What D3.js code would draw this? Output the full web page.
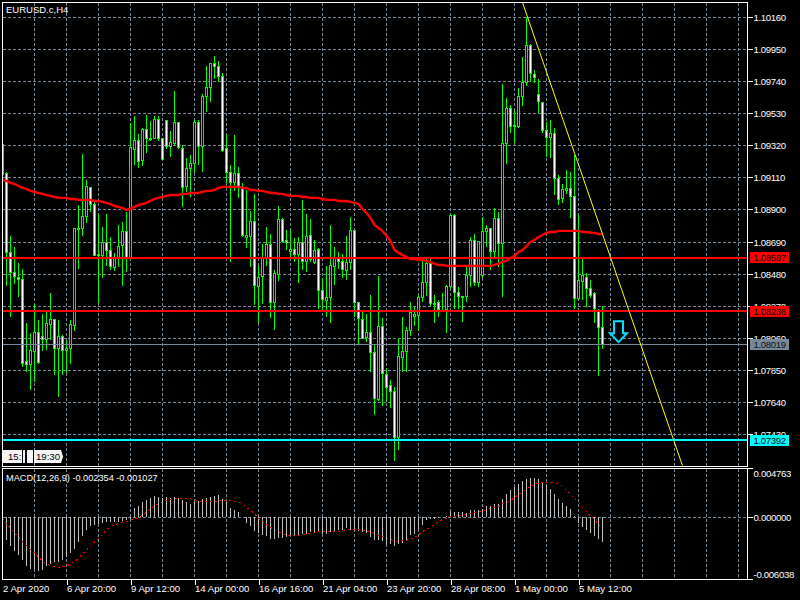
<!DOCTYPE html>
<html><head><meta charset="utf-8">
<script src="https://cdn.jsdelivr.net/npm/d3@7"></script>
<style>html,body{margin:0;padding:0;background:#000}svg{display:block}text{font-family:"Liberation Sans",Arial,sans-serif}</style>
</head><body><svg id="c" width="800" height="600"></svg>
<script>
const symbolTitle="EURUSD.c,H4";
const macdTitle="MACD(12,26,9) -0.002354 -0.001027";
const open=[1.09326,1.09136,1.08619,1.08488,1.08461,1.08448,1.07905,1.07885,1.07977,1.08095,1.08069,1.08049,1.08147,1.08180,1.07990,1.08069,1.07977,1.07990,1.08141,1.08769,1.08776,1.08854,1.09044,1.08939,1.08606,1.08599,1.08684,1.08632,1.08527,1.08592,1.08664,1.08756,1.08579,1.09300,1.09358,1.09221,1.09424,1.09371,1.09365,1.09489,1.09371,1.09483,1.09313,1.09332,1.09470,1.09300,1.09051,1.09169,1.09201,1.09470,1.09313,1.09640,1.09699,1.09856,1.09836,1.09777,1.09300,1.09142,1.09077,1.09136,1.09038,1.08723,1.08723,1.08822,1.08403,1.08461,1.08586,1.08671,1.08291,1.08475,1.08835,1.08697,1.08625,1.08638,1.08606,1.08684,1.08560,1.08730,1.08553,1.08638,1.08370,1.08304,1.08324,1.08534,1.08586,1.08560,1.08501,1.08553,1.08763,1.08291,1.08186,1.08062,1.08095,1.07964,1.07656,1.08134,1.07826,1.07748,1.07709,1.07407,1.07931,1.07971,1.08108,1.08200,1.08206,1.08324,1.08422,1.08547,1.08285,1.08291,1.08245,1.08245,1.08396,1.08861,1.08357,1.08331,1.08331,1.08468,1.08697,1.08422,1.08468,1.08756,1.08776,1.08625,1.08841,1.08678,1.09332,1.09561,1.09450,1.09444,1.09640,1.09732,1.09974,1.09790,1.09653,1.09601,1.09417,1.09371,1.09398,1.09103,1.08972,1.09025,1.09038,1.08985,1.08317,1.08429,1.08461,1.08389,1.08350,1.08239,1.08128];
const high=[1.09326,1.09149,1.08736,1.08664,1.08553,1.08514,1.08160,1.08095,1.08285,1.08186,1.08219,1.08232,1.08357,1.08180,1.08180,1.08082,1.08049,1.08186,1.08782,1.08933,1.09267,1.09097,1.09051,1.08953,1.08880,1.08795,1.08880,1.08723,1.08619,1.08802,1.08822,1.08887,1.09470,1.09516,1.09398,1.09437,1.09522,1.09483,1.09516,1.09516,1.09371,1.09483,1.09417,1.09679,1.09470,1.09326,1.09241,1.09260,1.09489,1.09489,1.09660,1.09843,1.09863,1.09908,1.09876,1.09797,1.09398,1.09195,1.09391,1.09182,1.09077,1.09031,1.08894,1.09011,1.08534,1.08678,1.08789,1.08743,1.08507,1.08926,1.08848,1.08769,1.08769,1.08717,1.08723,1.08966,1.08874,1.08841,1.08704,1.08651,1.08461,1.08534,1.08802,1.08658,1.08625,1.08612,1.08736,1.08854,1.08769,1.08291,1.08232,1.08219,1.08344,1.08029,1.08468,1.08193,1.07866,1.07787,1.07741,1.08062,1.08200,1.08134,1.08298,1.08265,1.08344,1.08586,1.08592,1.08586,1.08344,1.08317,1.08357,1.08409,1.08880,1.08880,1.08396,1.08337,1.08540,1.08723,1.08743,1.08697,1.08854,1.08808,1.08782,1.08913,1.08887,1.09725,1.09633,1.09588,1.09555,1.09699,1.09902,1.10164,1.09993,1.09817,1.09758,1.09607,1.09476,1.09489,1.09437,1.09129,1.09070,1.09162,1.09149,1.09260,1.08880,1.08579,1.08488,1.08442,1.08363,1.08252,1.08272];
const low=[1.09129,1.08403,1.08200,1.08416,1.08331,1.07872,1.07840,1.07722,1.07774,1.07892,1.07977,1.07984,1.08049,1.07826,1.07682,1.07826,1.07833,1.07898,1.08108,1.08514,1.08736,1.08815,1.08887,1.08599,1.08291,1.08455,1.08534,1.08507,1.08501,1.08527,1.08403,1.08494,1.08573,1.09195,1.09175,1.09188,1.09273,1.09358,1.09365,1.09352,1.09234,1.09300,1.09247,1.09326,1.09300,1.08920,1.09018,1.08985,1.09142,1.09195,1.09149,1.09542,1.09607,1.09758,1.09738,1.09286,1.09077,1.08560,1.09025,1.08979,1.08723,1.08651,1.08527,1.08278,1.08160,1.08285,1.08534,1.08193,1.08115,1.08435,1.08684,1.08638,1.08592,1.08560,1.08422,1.08507,1.08494,1.08560,1.08547,1.08252,1.08245,1.08200,1.08160,1.08409,1.08520,1.08461,1.08442,1.08507,1.08200,1.08029,1.08056,1.08042,1.07840,1.07558,1.07650,1.07617,1.07643,1.07610,1.07263,1.07329,1.07840,1.07840,1.08075,1.08141,1.08108,1.08298,1.08337,1.08272,1.08160,1.08200,1.08232,1.08095,1.08389,1.08252,1.08252,1.08167,1.08298,1.08396,1.08403,1.08396,1.08461,1.08658,1.08507,1.08592,1.08527,1.08331,1.09201,1.09404,1.09339,1.09437,1.09581,1.09712,1.09738,1.09732,1.09535,1.09404,1.09247,1.09241,1.08998,1.08933,1.08946,1.09011,1.08848,1.08252,1.08311,1.08317,1.08265,1.08324,1.08160,1.07813,1.07990];
const close=[1.09129,1.08619,1.08488,1.08461,1.08448,1.07898,1.07885,1.07977,1.08101,1.07898,1.08049,1.08154,1.08180,1.07990,1.08069,1.07977,1.07990,1.08147,1.08776,1.08776,1.08854,1.09051,1.08933,1.08606,1.08599,1.08684,1.08632,1.08527,1.08592,1.08664,1.08756,1.08579,1.09306,1.09358,1.09221,1.09424,1.09365,1.09365,1.09489,1.09365,1.09234,1.09313,1.09339,1.09470,1.09306,1.09044,1.09169,1.09201,1.09470,1.09313,1.09640,1.09699,1.09856,1.09836,1.09771,1.09293,1.09142,1.09077,1.09136,1.09044,1.08730,1.08736,1.08822,1.08403,1.08461,1.08586,1.08671,1.08291,1.08481,1.08835,1.08691,1.08684,1.08638,1.08606,1.08684,1.08560,1.08723,1.08573,1.08632,1.08370,1.08311,1.08324,1.08534,1.08592,1.08560,1.08507,1.08553,1.08763,1.08291,1.08186,1.08062,1.08095,1.07964,1.07663,1.08134,1.07826,1.07741,1.07709,1.07407,1.07938,1.07971,1.08108,1.08226,1.08213,1.08324,1.08422,1.08547,1.08285,1.08278,1.08245,1.08239,1.08396,1.08861,1.08357,1.08331,1.08324,1.08468,1.08697,1.08422,1.08691,1.08756,1.08776,1.08625,1.08841,1.08678,1.09332,1.09561,1.09444,1.09444,1.09640,1.09732,1.09974,1.09790,1.09771,1.09607,1.09417,1.09371,1.09398,1.09103,1.08966,1.09031,1.09038,1.08985,1.08317,1.08435,1.08468,1.08389,1.08344,1.08252,1.08128,1.08019];
const movingAverage=[1.09097,1.09090,1.09077,1.09070,1.09057,1.09044,1.09038,1.09025,1.09018,1.09011,1.09005,1.08998,1.08992,1.08985,1.08979,1.08979,1.08979,1.08972,1.08972,1.08966,1.08966,1.08966,1.08966,1.08959,1.08959,1.08953,1.08946,1.08939,1.08926,1.08920,1.08913,1.08900,1.08907,1.08920,1.08933,1.08939,1.08946,1.08959,1.08972,1.08979,1.08985,1.08992,1.08998,1.08998,1.08998,1.09005,1.09005,1.09011,1.09011,1.09011,1.09018,1.09025,1.09025,1.09031,1.09044,1.09051,1.09051,1.09051,1.09051,1.09051,1.09044,1.09044,1.09031,1.09031,1.09025,1.09025,1.09018,1.09011,1.09011,1.09005,1.09005,1.08998,1.08992,1.08992,1.08992,1.08985,1.08985,1.08979,1.08979,1.08979,1.08972,1.08966,1.08966,1.08966,1.08959,1.08959,1.08959,1.08953,1.08946,1.08939,1.08907,1.08880,1.08848,1.08802,1.08782,1.08763,1.08730,1.08697,1.08638,1.08619,1.08606,1.08592,1.08579,1.08579,1.08573,1.08573,1.08566,1.08560,1.08547,1.08540,1.08540,1.08534,1.08534,1.08534,1.08534,1.08534,1.08534,1.08534,1.08534,1.08534,1.08534,1.08534,1.08534,1.08540,1.08547,1.08560,1.08566,1.08586,1.08599,1.08625,1.08638,1.08664,1.08691,1.08704,1.08723,1.08736,1.08750,1.08756,1.08756,1.08763,1.08763,1.08763,1.08763,1.08763,1.08763,1.08756,1.08756,1.08750,1.08750,1.08743,1.08743];
const macdHistogram=[-0.001728,-0.002219,-0.002808,-0.003266,-0.003692,-0.004183,-0.004772,-0.005001,-0.005034,-0.005165,-0.005099,-0.004772,-0.004510,-0.004347,-0.004347,-0.004183,-0.003856,-0.003463,-0.003037,-0.002383,-0.001826,-0.001237,-0.000812,-0.000746,-0.000681,-0.000517,-0.000484,-0.000452,-0.000452,-0.000452,-0.000321,-0.000255,-0.000190,0.000956,0.001152,0.001479,0.001708,0.001938,0.002101,0.002036,0.001905,0.001970,0.001872,0.001970,0.001872,0.001708,0.001545,0.001283,0.001545,0.001643,0.001774,0.001872,0.001970,0.002101,0.002199,0.001774,0.001512,0.000956,0.000727,0.000497,0.000072,-0.000583,-0.000844,-0.001303,-0.001499,-0.001728,-0.001826,-0.002055,-0.002088,-0.001990,-0.001957,-0.001892,-0.001663,-0.001761,-0.001728,-0.001630,-0.001564,-0.001401,-0.001368,-0.001434,-0.001564,-0.001564,-0.001434,-0.001434,-0.001237,-0.001237,-0.001074,-0.001237,-0.001237,-0.001303,-0.001401,-0.001499,-0.001892,-0.002153,-0.002219,-0.002285,-0.002677,-0.002546,-0.002808,-0.002546,-0.002481,-0.002153,-0.001728,-0.001564,-0.001172,-0.000779,-0.000255,-0.000190,-0.000124,-0.000092,0.000007,0.000137,0.000628,0.000563,0.000530,0.000563,0.000465,0.000727,0.000727,0.000727,0.000792,0.001119,0.001119,0.001316,0.001348,0.001774,0.002298,0.002690,0.002952,0.003247,0.003509,0.003770,0.003869,0.003869,0.003738,0.003476,0.003200,0.002789,0.002298,0.001807,0.001414,0.001119,0.000825,0.000137,-0.000550,-0.000943,-0.001237,-0.001532,-0.001826,-0.002121,-0.002354];
const macdSignal=[-0.000092,-0.000583,-0.001074,-0.001499,-0.001892,-0.002317,-0.002710,-0.003135,-0.003463,-0.003856,-0.004249,-0.004510,-0.004674,-0.004772,-0.004837,-0.004805,-0.004739,-0.004510,-0.004249,-0.004019,-0.003528,-0.003201,-0.002710,-0.002383,-0.002055,-0.001630,-0.001172,-0.000910,-0.000714,-0.000583,-0.000452,-0.000386,-0.000255,-0.000157,-0.000026,0.000236,0.000497,0.000825,0.001119,0.001316,0.001512,0.001643,0.001774,0.001839,0.001872,0.001872,0.001839,0.001807,0.001741,0.001610,0.001512,0.001512,0.001512,0.001578,0.001610,0.001643,0.001643,0.001610,0.001578,0.001512,0.001348,0.000988,0.000727,0.000334,-0.000092,-0.000419,-0.000681,-0.000975,-0.001204,-0.001401,-0.001564,-0.001728,-0.001761,-0.001794,-0.001794,-0.001728,-0.001630,-0.001564,-0.001499,-0.001401,-0.001368,-0.001335,-0.001335,-0.001335,-0.001335,-0.001303,-0.001237,-0.001204,-0.001172,-0.001204,-0.001237,-0.001303,-0.001434,-0.001564,-0.001728,-0.001826,-0.001990,-0.002153,-0.002285,-0.002317,-0.002252,-0.002219,-0.002121,-0.001957,-0.001695,-0.001368,-0.001172,-0.000910,-0.000681,-0.000452,-0.000190,-0.000092,0.000072,0.000105,0.000170,0.000268,0.000334,0.000367,0.000465,0.000563,0.000661,0.000727,0.000858,0.000988,0.001054,0.001316,0.001447,0.001643,0.001970,0.002199,0.002494,0.002756,0.003018,0.003181,0.003345,0.003410,0.003443,0.003443,0.003410,0.003247,0.003018,0.002625,0.002298,0.001807,0.001447,0.000988,0.000563,0.000137,-0.000157,-0.000681,-0.001027];
const priceTicks=[1.10160,1.09950,1.09740,1.09530,1.09320,1.09110,1.08900,1.08690,1.08480,1.08270,1.08060,1.07850,1.07640,1.07430];
const macdTicks=[0.004763,0,-0.006038];
const timeTickBars=[0,16,32,48,64,80,96,112,128,144];
const timeTickLabels=["2 Apr 2020","6 Apr 20:00","9 Apr 12:00","14 Apr 00:00","16 Apr 16:00","21 Apr 04:00","23 Apr 20:00","28 Apr 08:00","1 May 00:00","5 May 12:00"];
const redLevels=[1.08587,1.08236];
const cyanLevel=1.07392;
const bidLevel=1.08019;
const trendBars=[130,170];
const trendPrices=[1.10258,1.07226];
const arrowBar=154;
const arrowPrice=1.08028;
const countdownLeft="15:";
const countdownRight="19:30";

const GRID="#778899",GREEN="#00ff00",FONT=9.6;
const svg=d3.select("#c");
svg.append("rect").attr("width",800).attr("height",600).attr("fill","#000");
const x=d3.scaleLinear().domain([0,186]).range([2.5,746.5]);
const y=d3.scaleLinear().domain([1.1016,1.0743]).range([17.5,434.5]);
const ym=d3.scaleLinear().domain([-0.006038,0.004763]).range([579.5,468.5]);
const snap=v=>Math.floor(v)+0.5;
const defs=svg.append("defs");
defs.append("clipPath").attr("id","pm").append("rect").attr("x",3).attr("y",3).attr("width",744).attr("height",463);
defs.append("clipPath").attr("id","pb").append("rect").attr("x",3).attr("y",469).attr("width",744).attr("height",110);
const main=svg.append("g").attr("clip-path","url(#pm)");
const sub=svg.append("g").attr("clip-path","url(#pb)");
const gridBars=d3.range(8,186,8);
const dash="3,2";
[[main,3,466],[sub,469,579]].forEach(([g,a,b])=>{
  g.append("g").selectAll("line").data(gridBars).join("line")
   .attr("x1",d=>x(d)).attr("x2",d=>x(d)).attr("y1",a).attr("y2",b)
   .attr("stroke",GRID).attr("stroke-dasharray",dash).attr("shape-rendering","crispEdges");
});
main.append("g").selectAll("line").data(priceTicks).join("line")
  .attr("x1",3).attr("x2",747).attr("y1",d=>snap(y(d))).attr("y2",d=>snap(y(d)))
  .attr("stroke",GRID).attr("stroke-dasharray",dash).attr("shape-rendering","crispEdges");
sub.append("line").attr("x1",3).attr("x2",747).attr("y1",snap(ym(0))).attr("y2",snap(ym(0)))
  .attr("stroke",GRID).attr("stroke-dasharray",dash).attr("shape-rendering","crispEdges");
const bars=d3.range(open.length);
main.append("g").selectAll("line").data(bars).join("line")
  .attr("x1",i=>x(i)).attr("x2",i=>x(i)).attr("y1",i=>snap(y(high[i]))).attr("y2",i=>snap(y(low[i])))
  .attr("stroke",GREEN).attr("shape-rendering","crispEdges");
main.append("g").selectAll("rect").data(bars).join("rect")
  .attr("x",i=>x(i)-1).attr("width",2)
  .attr("y",i=>snap(y(Math.max(open[i],close[i]))))
  .attr("height",i=>Math.max(1,Math.round(Math.abs(y(open[i])-y(close[i])))))
  .attr("fill",i=>close[i]<open[i]?"#fff":"#000")
  .attr("stroke",GREEN).attr("shape-rendering","crispEdges");
main.append("path").datum(bars)
  .attr("d",d3.line().x(i=>x(i)).y(i=>y(movingAverage[i])))
  .attr("fill","none").attr("stroke","#ff0000").attr("stroke-width",2.4);
main.append("line").attr("x1",3).attr("x2",747).attr("y1",snap(y(bidLevel))).attr("y2",snap(y(bidLevel)))
  .attr("stroke",GRID).attr("shape-rendering","crispEdges");
main.append("g").selectAll("line").data(redLevels).join("line")
  .attr("x1",3).attr("x2",747).attr("y1",d=>y(d)).attr("y2",d=>y(d))
  .attr("stroke","#ff0000").attr("stroke-width",2).attr("shape-rendering","crispEdges");
main.append("line").attr("x1",3).attr("x2",747).attr("y1",y(cyanLevel)).attr("y2",y(cyanLevel))
  .attr("stroke","#00ffff").attr("stroke-width",2).attr("shape-rendering","crispEdges");
main.append("line").attr("x1",x(trendBars[0])).attr("x2",x(trendBars[1]))
  .attr("y1",y(trendPrices[0])).attr("y2",y(trendPrices[1]))
  .attr("stroke","#ffff00").attr("stroke-width",1);
const ax=x(arrowBar),ay=y(arrowPrice);
main.append("path").attr("transform",`translate(${ax},${ay})`)
  .attr("d","M-4.5,-22L4.5,-22L4.5,-10L8.5,-10L0,-1L-8.5,-10L-4.5,-10Z")
  .attr("fill","#000").attr("stroke","#00e0ff").attr("stroke-width",2);
const tags=main.append("g");
[[3,3],[6,16],[23,2],[27,3],[30,3]].forEach(([a,w])=>tags.append("rect").attr("x",a).attr("y",450).attr("width",w).attr("height",13).attr("fill","#f4f4f4"));
tags.append("path").attr("d","M34,450H61L63,456.5L61,463H34Z").attr("fill","#f4f4f4");
tags.append("text").attr("x",8).attr("y",460).attr("font-size",FONT).attr("fill","#000").text(countdownLeft);
tags.append("text").attr("x",36).attr("y",460).attr("font-size",FONT).attr("fill","#000").text(countdownRight);
sub.append("g").selectAll("line").data(bars).join("line")
  .attr("x1",i=>x(i)).attr("x2",i=>x(i)).attr("y1",ym(0)).attr("y2",i=>ym(macdHistogram[i]))
  .attr("stroke","#c0c0c0").attr("shape-rendering","crispEdges");
sub.append("path").datum(bars)
  .attr("d",d3.line().x(i=>x(i)).y(i=>ym(macdSignal[i])))
  .attr("fill","none").attr("stroke","#ff0000").attr("stroke-dasharray","2,3").attr("shape-rendering","crispEdges");
[[2.5,2.5,745,464],[2.5,468.5,745,111]].forEach(([a,b,w,h])=>svg.append("rect").attr("x",a).attr("y",b).attr("width",w).attr("height",h).attr("fill","none").attr("stroke","#fff").attr("shape-rendering","crispEdges"));
function style(g,ls){
  g.select(".domain").remove();
  g.selectAll("line").attr("stroke","#fff").attr("shape-rendering","crispEdges");
  g.selectAll("text").attr("fill","#fff").attr("font-size",FONT).attr("font-family",'"Liberation Sans",Arial,sans-serif').attr("letter-spacing",ls);
}
const pa=svg.append("g").attr("transform","translate(747.5,0)")
 .call(d3.axisRight(y).tickValues(priceTicks).tickSize(5).tickPadding(1).tickFormat(d=>d.toFixed(5)));
style(pa,"-0.35px");
pa.selectAll(".tick").attr("transform",d=>`translate(0,${snap(y(d))})`);
const ma=svg.append("g").attr("transform","translate(747.5,0)")
 .call(d3.axisRight(ym).tickValues(macdTicks).tickSize(5).tickPadding(1).tickFormat(d=>d.toFixed(6)));
style(ma,"-0.3px");
ma.selectAll(".tick").attr("transform",d=>`translate(0,${snap(ym(d))})`);
ma.selectAll("text").attr("dy",d=>d>0?"0.9em":d<0?"-0.2em":"0.32em");
const xa=svg.append("g").attr("transform","translate(0,579.5)")
 .call(d3.axisBottom(x).tickValues(timeTickBars).tickSize(5).tickPadding(0).tickFormat((d,i)=>timeTickLabels[i]));
style(xa,"0");
xa.selectAll("text").attr("text-anchor","start").attr("x",0).attr("y",5.7).attr("dy","0.71em");
xa.selectAll(".tick").filter(d=>d===0).select("line").remove();
const tagData=[[redLevels[0],"#ff0000"],[redLevels[1],"#ff0000"],[bidLevel,"#778899"],[cyanLevel,"#00ffff"]];
const tg=svg.append("g").selectAll("g").data(tagData).join("g").attr("transform",d=>`translate(750,${Math.floor(y(d[0]))-5})`);
tg.append("rect").attr("width",39).attr("height",11).attr("fill",d=>d[1]);
tg.append("text").attr("x",3.5).attr("y",9).attr("font-size",FONT).attr("letter-spacing","-0.35px").attr("fill","#111").text(d=>d[0].toFixed(5));
svg.append("text").attr("x",6).attr("y",13).attr("font-size",9.5).attr("fill","#fff").text(symbolTitle);
svg.append("text").attr("x",6).attr("y",481).attr("font-size",9.2).attr("fill","#fff").text(macdTitle);
</script></body></html>
